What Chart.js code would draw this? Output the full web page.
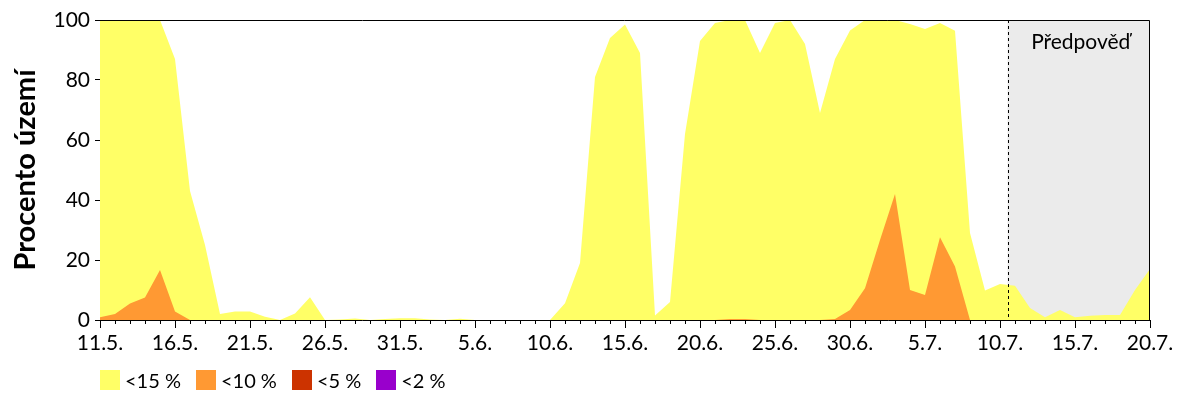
<!DOCTYPE html>
<html>
<head>
<meta charset="utf-8">
<script src="https://cdn.jsdelivr.net/npm/chart.js@4"></script>
<style>
  body { margin: 0; background: #fff; }
  #wrap { position: relative; width: 1200px; height: 400px; }
  #legend { position: absolute; left: 100px; top: 370px; display: flex; font-family: Lato, sans-serif; font-size: 20px; color: #000; }
  #legend .item { display: flex; align-items: center; margin-right: 15px; height: 20px; }
  #legend .box { width: 20px; height: 20px; margin-right: 5px; }
</style>
</head>
<body>
<div id="wrap">
  <canvas id="chart" width="1200" height="400"></canvas>
  <div id="legend"></div>
</div>
<script>
const days = [
  "11.5.", "12.5.", "13.5.", "14.5.", "15.5.", "16.5.", "17.5.", "18.5.", "19.5.", "20.5.",
  "21.5.", "22.5.", "23.5.", "24.5.", "25.5.", "26.5.", "27.5.", "28.5.", "29.5.", "30.5.",
  "31.5.", "1.6.", "2.6.", "3.6.", "4.6.", "5.6.", "6.6.", "7.6.", "8.6.", "9.6.",
  "10.6.", "11.6.", "12.6.", "13.6.", "14.6.", "15.6.", "16.6.", "17.6.", "18.6.", "19.6.",
  "20.6.", "21.6.", "22.6.", "23.6.", "24.6.", "25.6.", "26.6.", "27.6.", "28.6.", "29.6.",
  "30.6.", "1.7.", "2.7.", "3.7.", "4.7.", "5.7.", "6.7.", "7.7.", "8.7.", "9.7.",
  "10.7.", "11.7.", "12.7.", "13.7.", "14.7.", "15.7.", "16.7.", "17.7.", "18.7.", "19.7.",
  "20.7."
];

// percent of territory below each threshold
const below15 = [
  100, 100, 100, 100, 100, 87, 43, 25, 2, 2.8,
  2.8, 1.1, 0, 2.2, 7.6, 0, 0.2, 0.5, 0, 0.3,
  0.6, 0.6, 0.2, 0, 0.4, 0, 0, 0, 0, 0,
  0, 5.6, 19, 81, 94, 98.5, 89, 1.5, 6, 62,
  93, 99, 100, 100, 89, 99, 100, 92, 69, 87,
  96.5, 100, 100, 100, 98.7, 97, 99, 96.4, 29, 9.8,
  12, 11.4, 4, 0.9, 3.3, 0.9, 1.4, 1.7, 1.7, 10,
  17
];
const below10 = [
  0.9, 2, 5.5, 7.5, 16.7, 2.8, 0, 0, 0, 0,
  0, 0, 0, 0, 0, 0, 0, 0, 0, 0,
  0, 0, 0, 0, 0, 0, 0, 0, 0, 0,
  0, 0, 0, 0, 0, 0, 0, 0, 0, 0,
  0, 0, 0.3, 0.3, 0, 0, 0, 0, 0, 0.3,
  3.3, 10.6, 26.7, 42, 10, 8.3, 27.6, 17.8, 0, 0,
  0, 0, 0, 0, 0, 0, 0, 0, 0, 0,
  0
];
const below5 = days.map(() => 0);
const below2 = days.map(() => 0);

const seriesNames = ["<15 %", "<10 %", "<5 %", "<2 %"];
const seriesColors = ["#ffff66", "#ff9933", "#cc3300", "#9900cc"];
const forecastStart = 60.5;
const forecastLabel = "Předpověď";

const font = "Lato, sans-serif";

const extras = {
  id: "extras",
  beforeDatasetsDraw(chart) {
    const { ctx, chartArea: a, scales: { x } } = chart;
    const fx = x.getPixelForValue(forecastStart);
    ctx.save();
    ctx.fillStyle = "#ebebeb";
    ctx.fillRect(fx, a.top, a.right - fx, a.bottom - a.top);
    ctx.restore();
  },
  afterDraw(chart) {
    const { ctx, chartArea: a, scales: { x } } = chart;
    const fx = x.getPixelForValue(forecastStart);
    ctx.save();
    // dashed separator
    ctx.strokeStyle = "#000";
    ctx.lineWidth = 1;
    ctx.setLineDash([3, 3]);
    ctx.beginPath();
    ctx.moveTo(Math.round(fx) + 0.5, a.top);
    ctx.lineTo(Math.round(fx) + 0.5, a.bottom);
    ctx.stroke();
    ctx.setLineDash([]);
    // frame top and right
    ctx.beginPath();
    ctx.moveTo(a.left, a.top + 0.5);
    ctx.lineTo(a.right - 0.5, a.top + 0.5);
    ctx.lineTo(a.right - 0.5, a.bottom);
    ctx.stroke();
    // minor day ticks
    ctx.beginPath();
    for (let i = 0; i < days.length; i++) {
      const px = Math.round(x.getPixelForValue(i)) + 0.5;
      ctx.moveTo(px, a.bottom);
      ctx.lineTo(px, a.bottom + 4);
    }
    ctx.stroke();
    // forecast label
    ctx.fillStyle = "#000";
    ctx.font = "21px " + font;
    ctx.textAlign = "center";
    ctx.textBaseline = "middle";
    ctx.fillText(forecastLabel, (fx + a.right) / 2 + 2, a.top + 22);
    ctx.restore();
  }
};

const series = [below15, below10, below5, below2];

new Chart(document.getElementById("chart"), {
  type: "line",
  data: {
    labels: days,
    datasets: series.map((vals, i) => ({
      label: seriesNames[i],
      data: vals,
      backgroundColor: seriesColors[i],
      borderColor: seriesColors[i],
      borderWidth: 0,
      pointRadius: 0,
      tension: 0,
      fill: "origin",
      order: 4 - i,
    })),
  },
  options: {
    responsive: false,
    animation: false,
    devicePixelRatio: 1,
    layout: { padding: { top: 20, right: 50, left: 0, bottom: 0 } },
    plugins: {
      legend: { display: false },
      tooltip: { enabled: false },
    },
    scales: {
      x: {
        type: "category",
        offset: false,
        afterFit(scale) { scale.height = 80; },
        border: { color: "#000", width: 1 },
        grid: {
          drawOnChartArea: false,
          tickLength: 8,
          tickColor: (c) => (c.index % 5 === 0 ? "#000" : "rgba(0,0,0,0)"),
        },
        ticks: {
          autoSkip: false,
          maxRotation: 0,
          padding: 3,
          color: "#000",
          font: { family: font, size: 21 },
          callback: (v, i) => (i % 5 === 0 ? days[i] : ""),
        },
      },
      y: {
        min: 0,
        max: 100,
        afterFit(scale) { scale.width = 100; },
        border: { color: "#000", width: 1 },
        grid: { drawOnChartArea: false, tickLength: 5, tickColor: "#000" },
        ticks: {
          stepSize: 20,
          padding: 5,
          color: "#000",
          font: { family: font, size: 21 },
        },
        title: {
          display: true,
          text: "Procento území",
          color: "#000",
          font: { family: font, size: 29, weight: "bold" },
          padding: { top: 8, bottom: 0 },
        },
      },
    },
  },
  plugins: [extras],
});

const legend = document.getElementById("legend");
seriesNames.forEach((name, i) => {
  const item = document.createElement("div");
  item.className = "item";
  const box = document.createElement("div");
  box.className = "box";
  box.style.background = seriesColors[i];
  const txt = document.createElement("span");
  txt.textContent = name;
  item.appendChild(box);
  item.appendChild(txt);
  legend.appendChild(item);
});
</script>
</body>
</html>
